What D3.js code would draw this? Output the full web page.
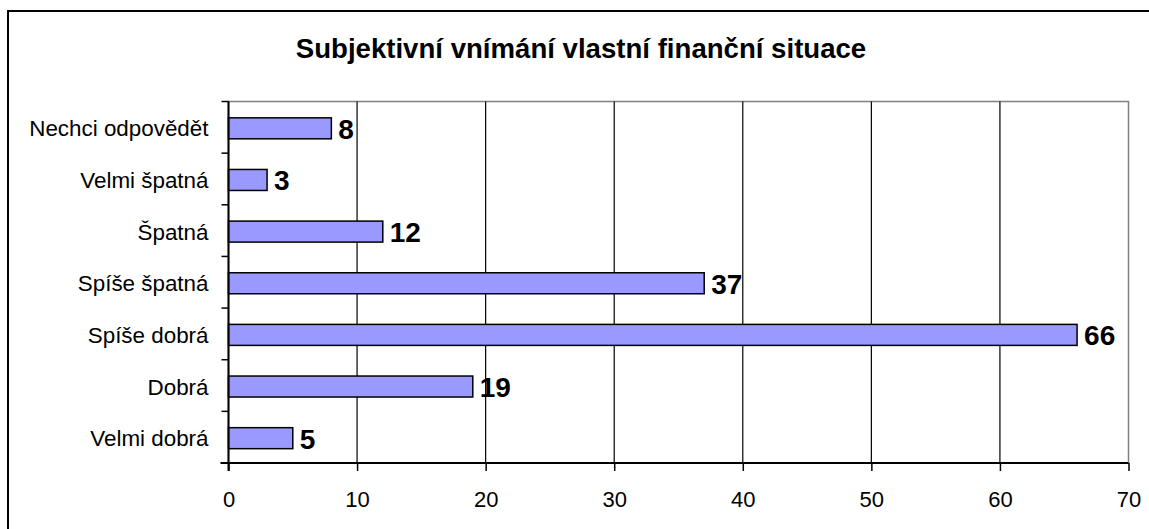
<!DOCTYPE html>
<html>
<head>
<meta charset="utf-8">
<script src="https://cdn.jsdelivr.net/npm/d3@7"></script>
<style>
  html, body { margin: 0; padding: 0; background: #fff; }
  svg { display: block; }
  text { font-family: "Liberation Sans", Arial, sans-serif; fill: #000; }
</style>
</head>
<body>
<svg id="chart" width="1149" height="529"></svg>
<script>
const categories = ["Nechci odpovědět", "Velmi špatná", "Špatná", "Spíše špatná", "Spíše dobrá", "Dobrá", "Velmi dobrá"];
const values = [8, 3, 12, 37, 66, 19, 5];
const xTicks = [0, 10, 20, 30, 40, 50, 60, 70];
const title = "Subjektivní vnímání vlastní finanční situace";

(function () {
const svg = d3.select("#chart");
const W = 1149, H = 529;
const pLeft = 228.5, pRight = 1128.5, pTop = 101.5, pBottom = 463;

svg.append("rect").attr("x", 0).attr("y", 0).attr("width", W).attr("height", H).attr("fill", "#fff");
// outer chart border (right/bottom extend past the picture)
svg.append("rect").attr("x", 8).attr("y", 11).attr("width", W + 20).attr("height", H + 20)
  .attr("fill", "none").attr("stroke", "#000").attr("stroke-width", 2);

const x = d3.scaleLinear().domain([0, 70]).range([pLeft, pRight]);
const y = d3.scaleBand().domain(categories).range([pTop, pBottom]).padding(0);

// plot area border (gray)
svg.append("rect").attr("x", pLeft).attr("y", pTop).attr("width", pRight - pLeft).attr("height", pBottom - pTop)
  .attr("fill", "none").attr("stroke", "#808080").attr("stroke-width", 1.5);

// gridlines
svg.append("g").selectAll("line").data(xTicks.filter(d => d > 0 && d < 70)).join("line")
  .attr("x1", d => x(d)).attr("x2", d => x(d)).attr("y1", pTop).attr("y2", pBottom)
  .attr("stroke", "#000").attr("stroke-width", 1.2);

// bars
const barH = 21;
svg.append("g").selectAll("rect").data(values).join("rect")
  .attr("x", x(0))
  .attr("y", (d, i) => y(categories[i]) + y.bandwidth() / 2 - barH / 2 + 1)
  .attr("width", d => x(d) - x(0))
  .attr("height", barH)
  .attr("fill", "#9999FF").attr("stroke", "#000").attr("stroke-width", 1.5);

// value labels
svg.append("g").selectAll("text").data(values).join("text")
  .attr("x", d => x(d) + 7)
  .attr("y", (d, i) => y(categories[i]) + y.bandwidth() / 2 + 11.5)
  .attr("font-size", 28).attr("font-weight", "bold")
  .text(d => d);

// x axis
const xAxis = d3.axisBottom(x).tickValues(xTicks).tickSize(8).tickPadding(10).tickFormat(d3.format("d"));
const gx = svg.append("g").attr("transform", `translate(0,${pBottom})`).call(xAxis);
gx.select(".domain").attr("d", `M${pLeft - 8},0H${pRight}`).attr("stroke", "#000").attr("stroke-width", 2);
gx.selectAll(".tick line").attr("stroke", "#000").attr("stroke-width", 1.5);
gx.selectAll(".tick text").attr("font-size", 22).attr("font-family", '"Liberation Sans", Arial, sans-serif')
  .attr("fill", "#000").attr("dy", null).attr("y", 43.5);

// y axis line and ticks at band boundaries
svg.append("line").attr("x1", pLeft).attr("x2", pLeft).attr("y1", pTop).attr("y2", pBottom + 8)
  .attr("stroke", "#000").attr("stroke-width", 2);
const bounds = categories.map(c => y(c)).concat([pBottom]);
svg.append("g").selectAll("line").data(bounds).join("line")
  .attr("x1", pLeft - 7).attr("x2", pLeft).attr("y1", d => d).attr("y2", d => d)
  .attr("stroke", "#000").attr("stroke-width", 1.5);

// category labels
svg.append("g").selectAll("text").data(categories).join("text")
  .attr("x", 208.5).attr("y", d => y(d) + y.bandwidth() / 2 + 9)
  .attr("text-anchor", "end").attr("font-size", 22.4)
  .text(d => d);

// title
svg.append("text").attr("x", 581).attr("y", 57.5).attr("text-anchor", "middle")
  .attr("font-size", 27.6).attr("font-weight", "bold").text(title);
})();
</script>
</body>
</html>
